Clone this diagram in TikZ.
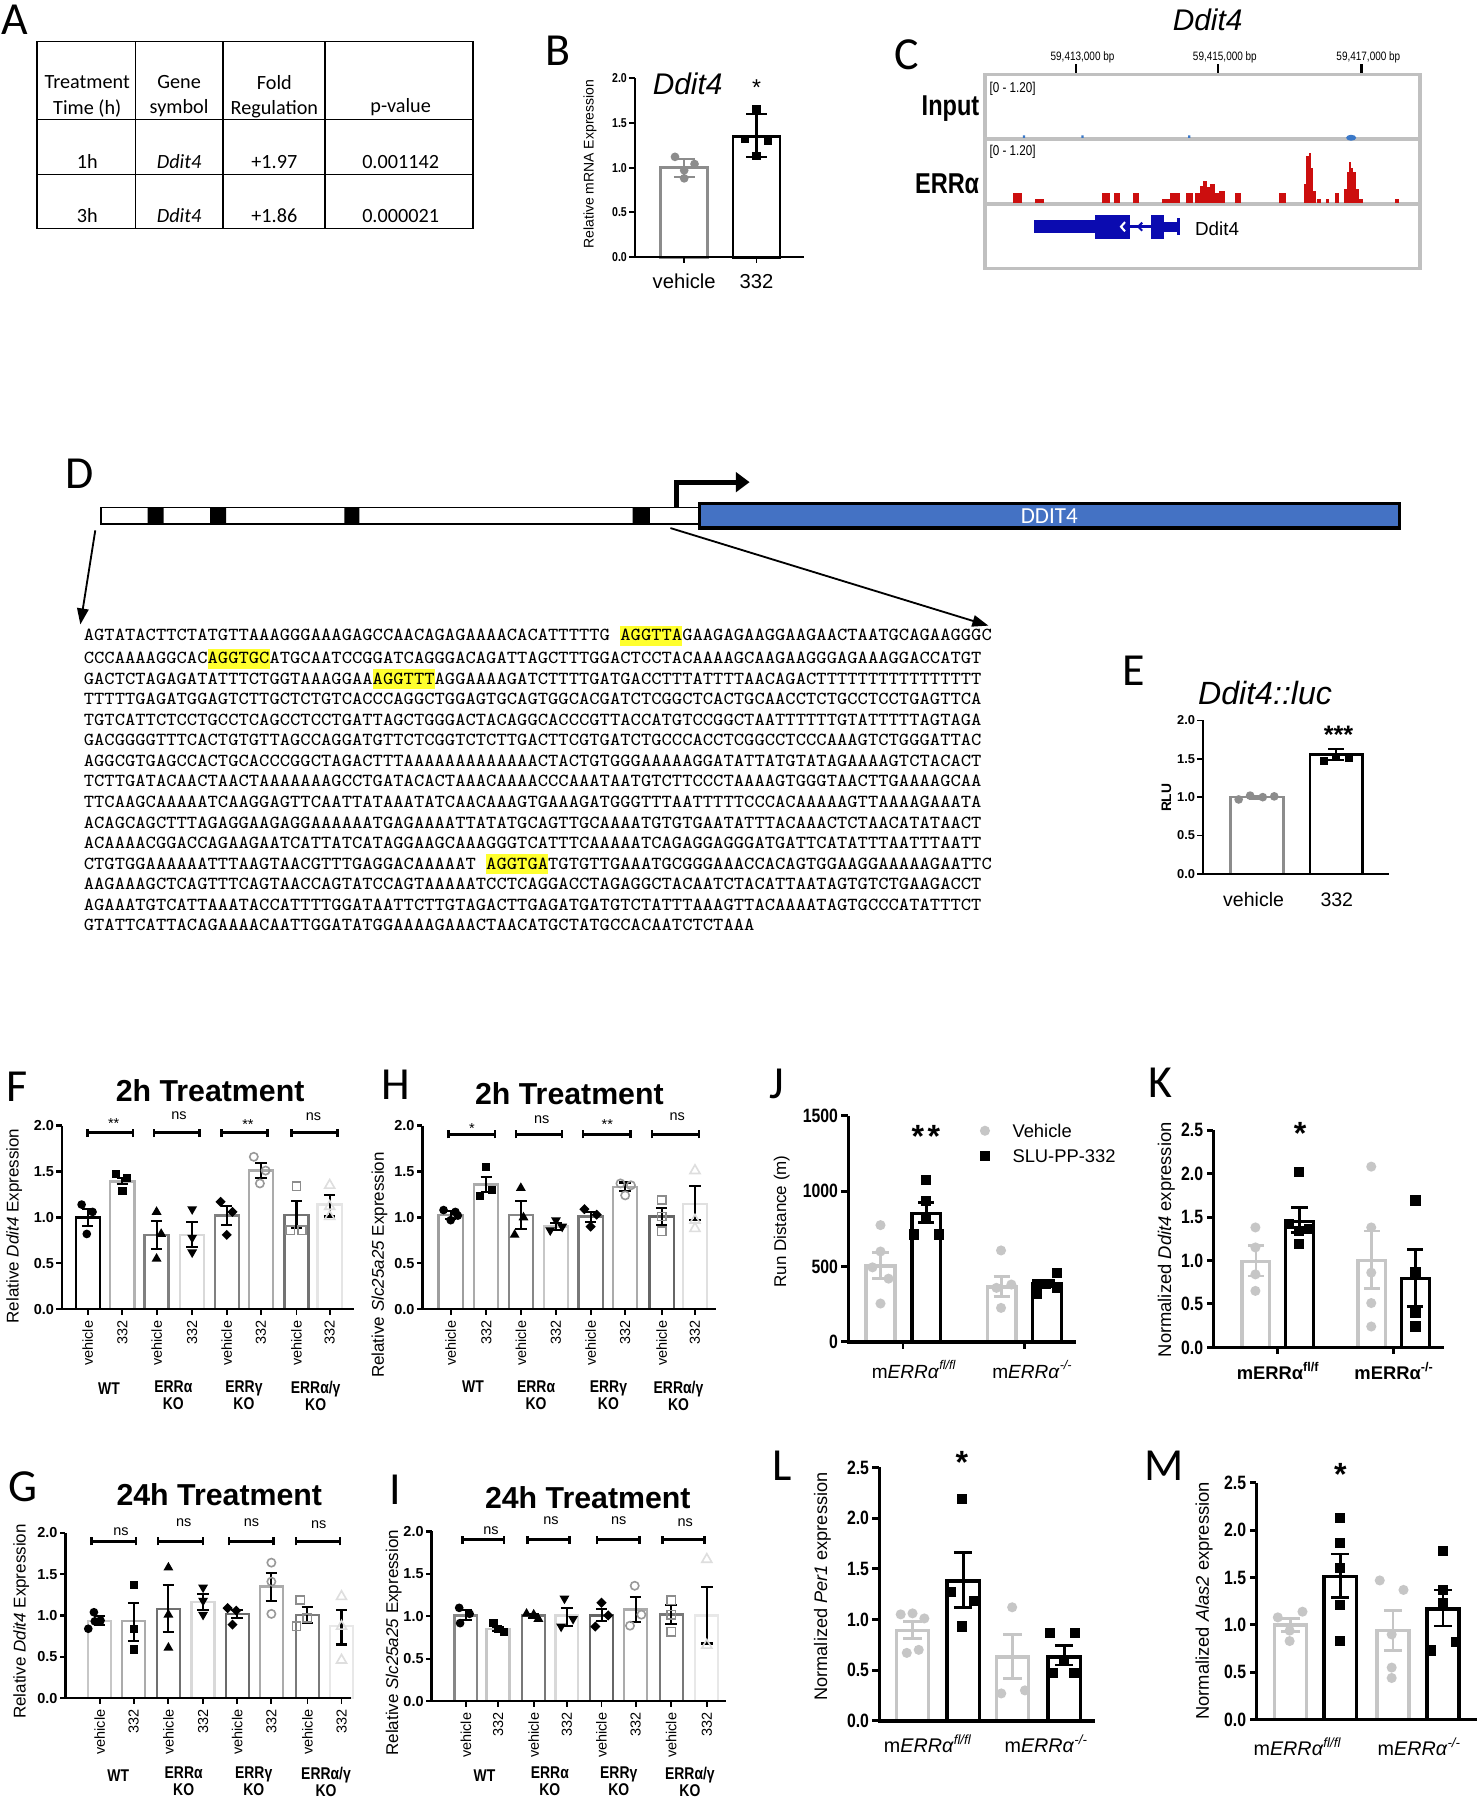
\documentclass[tikz,border=0pt]{standalone}
\usepackage{fontspec}
\setmainfont{Liberation Sans}
\newfontfamily\calib{Carlito}
\newfontfamily\nbf{Liberation Sans}[FakeStretch=0.82]
\usetikzlibrary{arrows.meta,shapes.geometric}
\definecolor{ered}{HTML}{CC0E0E}
\definecolor{gblue}{HTML}{0B0BB0}
\definecolor{iblue}{HTML}{3A78C8}
\definecolor{dblue}{HTML}{4472C4}
\definecolor{lg}{HTML}{C6C6C6}
\definecolor{hly}{HTML}{FFFF2E}
\definecolor{boxg}{HTML}{C0C0C0}
\newcommand{\seqhl}[1]{{\setlength{\fboxsep}{0pt}\colorbox{hly}{\rule[-2.3pt]{0pt}{8.8pt}#1}}}
\newcommand{\pbar}[6]{%
  \filldraw[fill=white, draw=#5, line width=\blw] (#1-\bhw,0) rectangle (#1+\bhw,#2);
  \draw[draw=#6, line width=\elw] (#1,#3) -- (#1,#4) (#1-\ecap,#3) -- (#1+\ecap,#3) (#1-\ecap,#4) -- (#1+\ecap,#4);}
\newcommand{\faxis}[1]{%
  \draw[line width=1pt] (0,2) -- (0,0) -- (#1,0);
  \foreach \myv/\myt in {0/0.0,0.5/0.5,1/1.0,1.5/1.5,2/2.0}{%
    \draw[line width=1pt] (0,\myv) -- ++(-2.5pt,0pt);
    \node[anchor=east, font=\bfseries\fontsize{6.3}{6.3}\selectfont] at ([xshift=-3.5pt]0,\myv) {\myt};}}
\newcommand{\xlabs}[1]{\foreach \xa/\xb in {#1}{%
  \draw[line width=0.8pt] (\xa,0) -- ++(0pt,-2.5pt) (\xb,0) -- ++(0pt,-2.5pt);
  \node[rotate=90, anchor=east, font=\fontsize{6.3}{6.3}\selectfont] at ([yshift=-5pt]\xa,0) {vehicle};
  \node[rotate=90, anchor=east, font=\fontsize{6.3}{6.3}\selectfont] at ([yshift=-5pt]\xb,0) {332};}}
\newcommand{\sbr}[3]{%
  \draw[line width=1.3pt] (#1,#3) -- (#2,#3);
  \draw[line width=1.1pt] (#1,#3) ++(0pt,-1.8pt) -- ++(0pt,3.6pt);
  \draw[line width=1.1pt] (#2,#3) ++(0pt,-1.8pt) -- ++(0pt,3.6pt);}
\newcommand{\kaxis}[3]{% xend, top, list v/t
  \draw[line width=1.5pt] (0,#2) -- (0,0) -- (#1,0);
  \foreach \myv/\myt in {#3}{%
    \draw[line width=1.3pt] (0,\myv) -- ++(-3pt,0pt);
    \node[anchor=east, font=\nbf\bfseries\fontsize{8.4}{8.4}\selectfont] at ([xshift=-4.5pt]0,\myv) {\myt};}}
\tikzset{
  plab/.style={font=\calib\fontsize{20}{20}\selectfont},
  tab/.style={font=\calib\fontsize{8.8}{11}\selectfont, align=center},
  seq/.style={anchor=base west, font=\fontsize{8}{8}\ttfamily},
  grp/.style={font=\nbf\bfseries\fontsize{7.4}{7.4}\selectfont, align=center},
  ttl/.style={font=\bfseries\fontsize{13.2}{13.2}\selectfont},
  ylab/.style={rotate=90, font=\fontsize{7.4}{7.4}\selectfont},
  sig/.style={font=\fontsize{6.3}{6.3}\selectfont},
  mdot/.style={circle, fill=#1, minimum size=3.8pt, inner sep=0pt},
  mdot/.default=black,
  msq/.style={rectangle, fill=#1, minimum size=3.6pt, inner sep=0pt},
  msq/.default=black,
  mtu/.style={regular polygon, regular polygon sides=3, fill=#1, minimum size=5pt, inner sep=0pt},
  mtu/.default=black,
  mtd/.style={regular polygon, regular polygon sides=3, shape border rotate=180, fill=#1, minimum size=5pt, inner sep=0pt},
  mtd/.default=black,
  mdi/.style={diamond, fill=#1, minimum size=4.4pt, inner sep=0pt},
  mdi/.default=black,
  moc/.style={circle, draw=#1, line width=0.7pt, minimum size=3.6pt, inner sep=0pt},
  moc/.default=black!40,
  mos/.style={rectangle, draw=#1, line width=0.7pt, minimum size=3.6pt, inner sep=0pt},
  mos/.default=black!45,
  mot/.style={regular polygon, regular polygon sides=3, draw=#1, line width=0.7pt, minimum size=5pt, inner sep=0pt},
  mot/.default=black!13,
  mks/.style={minimum size=4.4pt},
}
\begin{document}
\begin{tikzpicture}[x=0.5pt, y=-0.5pt, every node/.style={inner sep=0pt, outer sep=0pt}]
\useasboundingbox (0,0) rectangle (1287,1568);
\fill[white] (0,0) rectangle (1287,1568);

% ---------- panel letters
\node[plab] (lA) at (13,17) {A};
\node[plab] (lB) at (486,44) {B};
\node[plab] (lC) at (790,48) {C};
\node[plab] (lD) at (69,413) {D};
\node[plab] (lE) at (988,584) {E};
\node[plab] (lF) at (15,947) {F};
\node[plab] (lH) at (345,945) {H};
\node[plab] (lJ) at (677,944) {J};
\node[plab] (lK) at (1011,943) {K};
\node[plab] (lG) at (20,1295) {G};
\node[plab] (lI) at (344,1298) {I};
\node[plab] (lL) at (681,1277) {L};
\node[plab] (lM) at (1014,1277) {M};

% ---------- A table
\draw[line width=0.7pt] (32,36) rectangle (412,199);
\draw[line width=0.7pt] (118,36) -- (118,199) (194,36) -- (194,199) (283,36) -- (283,199) (32,104) -- (412,104) (32,152) -- (412,152);
\node[tab] (h1) at (76,84) {Treatment\\Time (h)};
\node[tab] (h2) at (156,84) {Gene\\symbol};
\node[tab] (h3) at (239,84) {Fold\\Regulation};
\node[tab] (h4) at (349,93) {p-value};
\node[tab] (r11) at (76,141) {1h};
\node[tab] (r12) at (156,141) {\itshape Ddit4};
\node[tab] (r13) at (239,141) {+1.97};
\node[tab] (r14) at (349,141) {0.001142};
\node[tab] (r21) at (76,188) {3h};
\node[tab] (r22) at (156,188) {\itshape Ddit4};
\node[tab] (r23) at (239,188) {+1.86};
\node[tab] (r24) at (349,188) {0.000021};

% ---------- B
\node[font=\itshape\fontsize{13}{13}\selectfont] (bt) at (599,73) {Ddit4};
\node[font=\fontsize{10}{10}\selectfont] (bs) at (659,76) {*};
\begin{scope}[shift={(553,224)}, y={(0pt,39pt)}]
  \def\bhw{20.5}\def\blw{1.2pt}\def\elw{0.9pt}\def\ecap{9}
  \pbar{43}{1.0}{0.9}{1.1}{black!45}{black!45}
  \pbar{106}{1.35}{1.12}{1.6}{black}{black}
  \foreach \px/\py in {35/1.12,52/1.04,43/0.97,43/0.88} \node[mdot=black!45] at (\px,\py) {};
  \foreach \px/\py in {106/1.65,96/1.32,116/1.30,106/1.13} \node[msq] at (\px,\py) {};
  \draw[line width=0.9pt] (0,2) -- (0,0) -- (147,0);
  \foreach \myv/\myt in {0/0.0,0.5/0.5,1/1.0,1.5/1.5,2/2.0}{%
    \draw[line width=0.8pt] (0,\myv) -- ++(-2.5pt,0pt);
    \node[anchor=east, font=\nbf\bfseries\fontsize{5.6}{5.6}\selectfont] at ([xshift=-3.5pt]0,\myv) {\myt};}
  \draw[line width=0.8pt] (43,0) -- ++(0pt,-2.5pt) (106,0) -- ++(0pt,-2.5pt);
\end{scope}
\node[rotate=90, font=\fontsize{6.1}{6.1}\selectfont] (by) at (514,143) {Relative mRNA Expression};
\node[font=\fontsize{8.8}{8.8}\selectfont] (bx1) at (596,245) {vehicle};
\node[font=\fontsize{8.8}{8.8}\selectfont] (bx2) at (659,245) {332};

% ---------- C
\node[font=\itshape\fontsize{13}{13}\selectfont] (ct) at (1052,17) {Ddit4};
\foreach \tx/\lab in {937/{59,413,000 bp},1061/{59,415,000 bp},1186/{59,417,000 bp}}{%
  \draw[line width=1pt] (\tx,56) -- (\tx,65);
  \node[font=\nbf\fontsize{5.3}{5.3}\selectfont] at (\tx+6,50) {\lab};}
\draw[boxg, line width=1.5pt] (858,65) rectangle (1237,234);
\draw[boxg, line width=1.8pt] (858,121) -- (1237,121) (858,178) -- (1237,178);
\node[anchor=west, font=\nbf\fontsize{6.2}{6.2}\selectfont] (cr1) at (862,77) {[0 - 1.20]};
\node[anchor=west, font=\nbf\fontsize{6.2}{6.2}\selectfont] (cr2) at (862,132) {[0 - 1.20]};
\node[anchor=east, font=\nbf\bfseries\fontsize{12.5}{12.5}\selectfont] (cin) at (853,95) {Input};
\node[anchor=east, font=\nbf\bfseries\fontsize{12.5}{12.5}\selectfont] (cer) at (853,160) {ERRα};
\fill[iblue] (891,118) rectangle (893,120) (942,118) rectangle (944,120) (1035,118) rectangle (1037,120);
\fill[iblue] (1177,120) ellipse (2.2pt and 1.3pt);
\foreach \a/\b/\t in {882/890/168, 902/909/173, 960/967/168, 970/976/168, 987/992/168,
  1012/1019/173, 1019/1028/168, 1033/1039/168, 1041/1045/168, 1045/1048/162, 1048/1051/158,
  1051/1054/163, 1054/1058/160, 1058/1062/168, 1062/1067/166, 1076/1081/168, 1114/1120/168,
  1136/1138/160, 1138/1140/136, 1140/1142/133, 1142/1144/146, 1144/1146/166, 1147/1151/173,
  1155/1158/173, 1163/1166/168, 1171/1173/165, 1173/1175/150, 1175/1177/141, 1177/1179/146,
  1179/1181/150, 1181/1184/165, 1184/1187/173, 1215/1219/173}
  \fill[ered] (\a,177) rectangle (\b,\t);
\fill[gblue] (901,192) rectangle (954,203);
\fill[gblue] (954,187) rectangle (984,208);
\draw[gblue, line width=1.2pt] (984,197.5) -- (1003,197.5);
\fill[gblue] (1003,187) rectangle (1014,208);
\fill[gblue] (1014,193) rectangle (1026,202);
\draw[gblue, line width=1.3pt] (1027,190) -- (1027,205);
\draw[white, line width=0.9pt] (980,193.5) -- (976.5,197.5) -- (980,201.5);
\draw[gblue, line width=0.9pt] (995,194) -- (991.5,197.5) -- (995,201);
\node[anchor=west, font=\fontsize{8.2}{8.2}\selectfont] (cg) at (1041,199) {Ddit4};

% ---------- D
\draw[line width=0.6pt, fill=white] (88,442) rectangle (611,456.5);
\fill (128.5,442) rectangle (142.5,456.5) (183,442) rectangle (197,456.5) (300,442) rectangle (313,456.5) (551,442) rectangle (566,456.5);
\draw[line width=1.4pt, fill=dblue] (609,438.5) rectangle (1219,460);
\node[font=\calib\fontsize{10}{10}\selectfont, text=white] (ddit) at (914,449.5) {DDIT4};
\coordinate (tss0) at (589.5,442);
\coordinate (tss1) at (589.5,420);
\coordinate (tss2) at (653,420);
\draw[line width=2.2pt, -{Triangle[length=6pt,width=8.5pt]}] (tss0) -- (tss1) -- (tss2);
\coordinate (la0) at (83,462);
\coordinate (la1) at (70,544);
\coordinate (ra0) at (584,460);
\coordinate (ra1) at (861,545);
\draw[line width=0.8pt, -{Triangle[length=7pt,width=5pt]}] (la0) -- (la1);
\draw[line width=0.8pt, -{Triangle[length=7pt,width=5pt]}] (ra0) -- (ra1);

\node[seq] (s1) at (73,558) {\scalebox{1.058}[1]{AGTATACTTCTATGTTAAAGGGAAAGAGCCAACAGAGAAAACACATTTTTG \seqhl{AGGTTA}GAAGAGAAGGAAGAACTAATGCAGAAGGGC}};
\node[seq] (s2) at (73,578) {\scalebox{1.058}[1]{CCCAAAAGGCAC\seqhl{AGGTGC}ATGCAATCCGGATCAGGGACAGATTAGCTTTGGACTCCTACAAAAGCAAGAAGGGAGAAAGGACCATGT}};
\node[seq] (s3) at (73,595.9) {\scalebox{1.058}[1]{GACTCTAGAGATATTTCTGGTAAAGGAA\seqhl{AGGTTT}AGGAAAAGATCTTTTGATGACCTTTATTTTAACAGACTTTTTTTTTTTTTTTT}};
\node[seq] (s4) at (73,613.8) {\scalebox{1.058}[1]{TTTTTGAGATGGAGTCTTGCTCTGTCACCCAGGCTGGAGTGCAGTGGCACGATCTCGGCTCACTGCAACCTCTGCCTCCTGAGTTCA}};
\node[seq] (s5) at (73,631.8) {\scalebox{1.058}[1]{TGTCATTCTCCTGCCTCAGCCTCCTGATTAGCTGGGACTACAGGCACCCGTTACCATGTCCGGCTAATTTTTTGTATTTTTAGTAGA}};
\node[seq] (s6) at (73,649.7) {\scalebox{1.058}[1]{GACGGGGTTTCACTGTGTTAGCCAGGATGTTCTCGGTCTCTTGACTTCGTGATCTGCCCACCTCGGCCTCCCAAAGTCTGGGATTAC}};
\node[seq] (s7) at (73,667.6) {\scalebox{1.058}[1]{AGGCGTGAGCCACTGCACCCGGCTAGACTTTAAAAAAAAAAAAACTACTGTGGGAAAAAGGATATTATGTATAGAAAAGTCTACACT}};
\node[seq] (s8) at (73,685.5) {\scalebox{1.058}[1]{TCTTGATACAACTAACTAAAAAAAGCCTGATACACTAAACAAAACCCAAATAATGTCTTCCCTAAAAGTGGGTAACTTGAAAAGCAA}};
\node[seq] (s9) at (73,703.4) {\scalebox{1.058}[1]{TTCAAGCAAAAATCAAGGAGTTCAATTATAAATATCAACAAAGTGAAAGATGGGTTTAATTTTTCCCACAAAAAGTTAAAAGAAATA}};
\node[seq] (s10) at (73,721.3) {\scalebox{1.058}[1]{ACAGCAGCTTTAGAGGAAGAGGAAAAAATGAGAAAATTATATGCAGTTGCAAAATGTGTGAATATTTACAAACTCTAACATATAACT}};
\node[seq] (s11) at (73,739.2) {\scalebox{1.058}[1]{ACAAAACGGACCAGAAGAATCATTATCATAGGAAGCAAAGGGTCATTTCAAAAATCAGAGGAGGGATGATTCATATTTAATTTAATT}};
\node[seq] (s12) at (73,757.1) {\scalebox{1.058}[1]{CTGTGGAAAAAATTTAAGTAACGTTTGAGGACAAAAAT \seqhl{AGGTGA}TGTGTTGAAATGCGGGAAACCACAGTGGAAGGAAAAAGAATTC}};
\node[seq] (s13) at (73,775.0) {\scalebox{1.058}[1]{AAGAAAGCTCAGTTTCAGTAACCAGTATCCAGTAAAAATCCTCAGGACCTAGAGGCTACAATCTACATTAATAGTGTCTGAAGACCT}};
\node[seq] (s14) at (73,793.0) {\scalebox{1.058}[1]{AGAAATGTCATTAAATACCATTTTGGATAATTCTTGTAGACTTGAGATGATGTCTATTTAAAGTTACAAAATAGTGCCCATATTTCT}};
\node[seq] (s15) at (73,810.9) {\scalebox{1.058}[1]{GTATTCATTACAGAAAACAATTGGATATGGAAAAGAAACTAACATGCTATGCCACAATCTCTAAA}};

% ---------- E
\node[font=\itshape\fontsize{14}{14}\selectfont] (et) at (1102,604) {Ddit4::luc};
\node[font=\bfseries\fontsize{11}{11}\selectfont] (es) at (1166,640) {***};
\begin{scope}[shift={(1048,761.2)}, y={(0pt,33.4pt)}]
  \def\bhw{23}\def\blw{1.1pt}\def\elw{0.9pt}\def\ecap{7}
  \pbar{47}{1.0}{0.98}{1.02}{black!45}{black!45}
  \pbar{116}{1.553}{1.49}{1.625}{black}{black}
  \foreach \px/\py in {31/0.97,41/1.02,52/1.0,62/1.01} \node[mdot=black!45] at (\px,\py) {};
  \foreach \px/\py in {105.5/1.467,116/1.52,127/1.51} \node[msq] at (\px,\py) {};
  \draw[line width=0.9pt] (0,2) -- (0,0) -- (162,0);
  \foreach \myv/\myt in {0/0.0,0.5/0.5,1/1.0,1.5/1.5,2/2.0}{%
    \draw[line width=0.8pt] (0,\myv) -- ++(-2.5pt,0pt);
    \node[anchor=east, font=\bfseries\fontsize{5.6}{5.6}\selectfont] at ([xshift=-3.5pt]0,\myv) {\myt};}
\end{scope}
\node[rotate=90, font=\bfseries\fontsize{6}{6}\selectfont] (ey) at (1016,695) {RLU};
\node[font=\fontsize{8.5}{8.5}\selectfont] (ex1) at (1092,784) {vehicle};
\node[font=\fontsize{8.5}{8.5}\selectfont] (ex2) at (1164.5,784) {332};

% ---------- F
\node[ttl] (ft) at (183,950) {2h Treatment};
\begin{scope}[shift={(54,1140.5)}, y={(0pt,40pt)}]
  \def\bhw{10.5}\def\blw{1pt}\def\elw{0.9pt}\def\ecap{5}
  \pbar{22.4}{1.00}{0.91}{1.09}{black}{black}
  \pbar{52.6}{1.39}{1.36}{1.43}{black!30}{black}
  \pbar{82.4}{0.81}{0.66}{0.96}{black!50}{black}
  \pbar{113.4}{0.81}{0.68}{0.95}{black!15}{black}
  \pbar{143.5}{1.02}{0.92}{1.12}{black!50}{black}
  \pbar{173.3}{1.51}{1.43}{1.59}{black!33}{black}
  \pbar{204.3}{1.03}{0.88}{1.18}{black!55}{black}
  \pbar{233.2}{1.14}{1.01}{1.24}{black!10}{black}
  \foreach \px/\py in {17.1/1.14,26.6/1.06,21.6/0.82} \node[mdot] at (\px,\py) {};
  \foreach \px/\py in {47.2/1.47,56.7/1.43,52.6/1.29} \node[msq] at (\px,\py) {};
  \foreach \px/\py in {82.4/1.06,86.4/0.82,82.4/0.55} \node[mtu] at (\px,\py) {};
  \foreach \px/\py in {113.4/1.09,113.4/0.78,113.4/0.62} \node[mtd] at (\px,\py) {};
  \foreach \px/\py in {138.1/1.17,148.5/1.06,143.5/0.81} \node[mdi] at (\px,\py) {};
  \foreach \px/\py in {167.1/1.66,177.4/1.51,172.4/1.37} \node[moc] at (\px,\py) {};
  \foreach \px/\py in {204.3/1.34,198.9/0.86,209.2/0.86} \node[mos] at (\px,\py) {};
  \foreach \px/\py in {233.2/1.35,233.2/1.12,233.2/1.01} \node[mot] at (\px,\py) {};
  \faxis{254}
  \xlabs{22.4/52.6,82.4/113.4,143.5/173.3,204.3/233.2}
  \sbr{22}{62}{1.92}\sbr{80}{120}{1.92}\sbr{139}{179}{1.92}\sbr{200}{240}{1.92}
\end{scope}
\node[sig] at (99,979) {**};
\node[sig] at (156,972) {ns};
\node[sig] at (216,980) {**};
\node[sig] at (273,973) {ns};
\node[ylab] (fy) at (12.5,1068) {Relative \textit{Ddit4} Expression};
\node[grp] at (95,1210) {WT};
\node[grp] at (151,1215) {ERRα\\KO};
\node[grp] at (212.5,1215) {ERRγ\\KO};
\node[grp] at (275,1216) {ERRα/γ\\KO};

% ---------- H
\node[ttl] (ht) at (496,953) {2h Treatment};
\begin{scope}[shift={(368,1140.5)}, y={(0pt,40pt)}]
  \def\bhw{10.5}\def\blw{1pt}\def\elw{0.9pt}\def\ecap{5}
  \pbar{24.6}{1.03}{0.98}{1.07}{black!38}{black}
  \pbar{55.6}{1.36}{1.28}{1.44}{black!33}{black}
  \pbar{85.7}{1.03}{0.87}{1.18}{black!47}{black}
  \pbar{116.3}{0.90}{0.86}{0.94}{black!22}{black}
  \pbar{146.5}{1.01}{0.95}{1.06}{black!53}{black}
  \pbar{176.6}{1.33}{1.29}{1.38}{black!33}{black}
  \pbar{208.4}{1.01}{0.92}{1.10}{black!60}{black}
  \pbar{237.4}{1.15}{0.97}{1.34}{black!12}{black}
  \foreach \px/\py in {18.4/1.08,28.7/1.06,24.6/0.97,30.8/1.02} \node[mdot] at (\px,\py) {};
  \foreach \px/\py in {55.6/1.55,60.5/1.30,50.2/1.23} \node[msq] at (\px,\py) {};
  \foreach \px/\py in {85.7/1.32,80.3/0.81,88/1.0} \node[mtu] at (\px,\py) {};
  \foreach \px/\py in {116.3/0.97,111.3/0.86,121.7/0.90} \node[mtd] at (\px,\py) {};
  \foreach \px/\py in {141.1/1.09,151.8/1.03,146.5/0.90} \node[mdi] at (\px,\py) {};
  \foreach \px/\py in {172.5/1.37,181.6/1.35,176.6/1.24} \node[moc] at (\px,\py) {};
  \foreach \px/\py in {208.4/1.19,208.4/1.01,208.4/0.85} \node[mos] at (\px,\py) {};
  \foreach \px/\py in {237.4/1.51,237.4/0.97,237.4/0.88} \node[mot] at (\px,\py) {};
  \faxis{256}
  \xlabs{24.6/55.6,85.7/116.3,146.5/176.6,208.4/237.4}
  \sbr{22.5}{63}{1.906}\sbr{81.6}{121.7}{1.906}\sbr{140}{181}{1.906}\sbr{200}{240.7}{1.906}
\end{scope}
\node[sig] at (411,983) {*};
\node[sig] at (472,975) {ns};
\node[sig] at (529,980) {**};
\node[sig] at (590,973) {ns};
\node[ylab] (hy) at (330.6,1102) {Relative \textit{Slc25a25} Expression};
\node[grp] at (412,1208) {WT};
\node[grp] at (467,1215) {ERRα\\KO};
\node[grp] at (530,1215) {ERRγ\\KO};
\node[grp] at (591,1216) {ERRα/γ\\KO};

% ---------- G
\node[ttl] (gt) at (191,1302) {24h Treatment};
\begin{scope}[shift={(57,1479.3)}, y={(0pt,36pt)}]
  \def\bhw{10}\def\blw{1pt}\def\elw{0.9pt}\def\ecap{5}
  \pbar{29.8}{0.93}{0.88}{0.99}{black!22}{black}
  \pbar{59.5}{0.93}{0.69}{1.15}{black!33}{black}
  \pbar{89.7}{1.08}{0.80}{1.37}{black!56}{black}
  \pbar{119.9}{1.16}{1.07}{1.26}{black!15}{black}
  \pbar{149.6}{1.02}{0.97}{1.07}{black!58}{black}
  \pbar{179.4}{1.35}{1.18}{1.52}{black!33}{black}
  \pbar{210.8}{1.01}{0.91}{1.10}{black!52}{black}
  \pbar{240.5}{0.87}{0.65}{1.07}{black!9}{black}
  \foreach \px/\py in {24.8/1.04,30.6/0.94,19.9/0.84,25.6/0.93} \node[mdot] at (\px,\py) {};
  \foreach \px/\py in {59.5/1.37,59.5/0.84,59.5/0.59} \node[msq] at (\px,\py) {};
  \foreach \px/\py in {89.7/1.58,89.7/1.01,89.7/0.61} \node[mtu] at (\px,\py) {};
  \foreach \px/\py in {119.9/1.34,119.9/1.18,119.9/1.01} \node[mtd] at (\px,\py) {};
  \foreach \px/\py in {141.3/1.09,148.8/1.06,145.5/0.89} \node[mdi] at (\px,\py) {};
  \foreach \px/\py in {179.4/1.64,179.4/1.41,179.4/1.02} \node[moc] at (\px,\py) {};
  \foreach \px/\py in {204.6/1.19,201.3/0.87,210.8/0.97} \node[mos] at (\px,\py) {};
  \foreach \px/\py in {240.5/1.23,240.5/0.87,240.5/0.46} \node[mot] at (\px,\py) {};
  \faxis{249}
  \xlabs{29.8/59.5,89.7/119.9,149.6/179.4,210.8/240.5}
  \sbr{22.8}{61.6}{1.9}\sbr{80.6}{119.9}{1.9}\sbr{142.6}{181.4}{1.9}\sbr{201}{239}{1.9}
\end{scope}
\node[sig] at (105.4,1334) {ns};
\node[sig] at (160,1326.7) {ns};
\node[sig] at (219,1326) {ns};
\node[sig] at (277.7,1328) {ns};
\node[ylab] (gy) at (18.6,1412.5) {Relative \textit{Ddit4} Expression};
\node[grp] at (103,1547) {WT};
\node[grp] at (160,1552) {ERRα\\KO};
\node[grp] at (221,1552) {ERRγ\\KO};
\node[grp] at (284,1552) {ERRα/γ\\KO};

% ---------- I
\node[ttl] (it) at (512,1305) {24h Treatment};
\begin{scope}[shift={(376,1482)}, y={(0pt,37pt)}]
  \def\bhw{10}\def\blw{1pt}\def\elw{0.9pt}\def\ecap{5}
  \pbar{29.8}{1.01}{0.96}{1.07}{black!47}{black}
  \pbar{57.9}{0.85}{0.83}{0.88}{black!22}{black}
  \pbar{88.9}{1.01}{0.98}{1.03}{black!53}{black}
  \pbar{117.8}{1.01}{0.89}{1.10}{black!15}{black}
  \pbar{148}{1.01}{0.94}{1.09}{black!60}{black}
  \pbar{177.7}{1.08}{0.93}{1.23}{black!33}{black}
  \pbar{208.7}{1.02}{0.91}{1.13}{black!53}{black}
  \pbar{239.7}{1.01}{0.68}{1.35}{black!9}{black}
  \foreach \px/\py in {24/1.10,33.1/1.03,24.8/0.92} \node[mdot] at (\px,\py) {};
  \foreach \px/\py in {53.8/0.92,57.9/0.85,62.8/0.82} \node[msq] at (\px,\py) {};
  \foreach \px/\py in {82.7/1.03,88.9/1.02,93/0.97} \node[mtu] at (\px,\py) {};
  \foreach \px/\py in {115.7/1.21,123.2/0.97,112.8/0.88} \node[mtd] at (\px,\py) {};
  \foreach \px/\py in {148/1.16,153.8/1.01,142.6/0.88} \node[mdi] at (\px,\py) {};
  \foreach \px/\py in {176.9/1.36,182.7/1.02,172.8/0.89} \node[moc] at (\px,\py) {};
  \foreach \px/\py in {208.7/1.19,208.7/1.02,208.7/0.82} \node[mos] at (\px,\py) {};
  \foreach \px/\py in {239.7/1.67,239.7/0.66} \node[mot] at (\px,\py) {};
  \faxis{256}
  \xlabs{29.8/57.9,88.9/117.8,148/177.7,208.7/239.7}
  \sbr{27}{63}{1.9}\sbr{83.5}{120}{1.9}\sbr{144}{181}{1.9}\sbr{201}{237.6}{1.9}
\end{scope}
\node[sig] at (427.7,1333.4) {ns};
\node[sig] at (480,1325) {ns};
\node[sig] at (539,1324.7) {ns};
\node[sig] at (597,1326) {ns};
\node[ylab] (iy) at (343,1431) {Relative \textit{Slc25a25} Expression};
\node[grp] at (422,1547) {WT};
\node[grp] at (479,1552) {ERRα\\KO};
\node[grp] at (539,1552) {ERRγ\\KO};
\node[grp] at (601,1552) {ERRα/γ\\KO};

% ---------- J
\begin{scope}[shift={(739,1169)}, y={(0pt,0.065667pt)}]
  \def\bhw{12.5}\def\blw{1.5pt}\def\elw{1.2pt}\def\ecap{7}
  \pbar{28}{503}{420}{592}{lg}{lg}
  \pbar{68}{851}{790}{924}{black}{black}
  \pbar{133.5}{366}{304}{436}{lg}{lg}
  \pbar{173}{386}{365}{410}{black}{black}
  \foreach \px/\py in {28/775,28/600,21/495,35/420,28/255} \node[mdot=lg, mks] at (\px,\py) {};
  \foreach \px/\py in {68/1075,68/935,68/830,57/713,79/713} \node[msq, mks] at (\px,\py) {};
  \foreach \px/\py in {133/607,142/381,129/359,133/226} \node[mdot=lg, mks] at (\px,\py) {};
  \foreach \px/\py in {182/459,172/386,164/381,164/319,182/359} \node[msq, mks] at (\px,\py) {};
  \kaxis{198.5}{1500}{0/0,500/500,1000/1000,1500/1500}
  \draw[line width=1.3pt] (47.6,0) -- ++(0pt,-3pt) (153.8,0) -- ++(0pt,-3pt);
\end{scope}
\node[font=\bfseries\fontsize{14}{14}\selectfont] (js) at (806.5,990) {*\hspace{1.5pt}*};
\node[mdot=lg, mks] (jl1) at (858,985) {};
\node[msq, mks] (jl2) at (858,1007) {};
\node[anchor=west, font=\fontsize{8}{8}\selectfont] (jt1) at (882,985) {Vehicle};
\node[anchor=west, font=\fontsize{8}{8}\selectfont] (jt2) at (882,1007) {SLU-PP-332};
\node[rotate=90, font=\fontsize{7.4}{7.4}\selectfont] (jy) at (681,1064) {Run Distance (m)};
\node[font=\fontsize{8.3}{8.3}\selectfont] (jx1) at (796,1193) {m\textit{ERRα}\raisebox{3.5pt}{\fontsize{5.5}{5.5}\selectfont\textit{fl/fl}}};
\node[font=\fontsize{8.3}{8.3}\selectfont] (jx2) at (899,1193) {m\textit{ERRα}\raisebox{3.5pt}{\fontsize{5.5}{5.5}\selectfont\textit{-/-}}};

% ---------- K
\begin{scope}[shift={(1057,1173.7)}, y={(0pt,37.85pt)}]
  \def\bhw{12}\def\blw{1.5pt}\def\elw{1.2pt}\def\ecap{7}
  \pbar{37}{0.99}{0.82}{1.17}{lg}{lg}
  \pbar{75}{1.45}{1.32}{1.61}{black}{black}
  \pbar{138}{1.00}{0.68}{1.34}{lg}{lg}
  \pbar{176}{0.79}{0.47}{1.13}{black}{black}
  \foreach \px/\py in {36.6/1.38,36.6/1.15,36.6/0.84,36.6/0.65} \node[mdot=lg, mks] at (\px,\py) {};
  \foreach \px/\py in {74.7/2.02,65.6/1.42,83/1.36,74.7/1.34,74.7/1.19} \node[msq, mks] at (\px,\py) {};
  \foreach \px/\py in {137.5/2.08,137.5/1.38,137.5/0.86,137.5/0.51,137.5/0.24} \node[mdot=lg, mks] at (\px,\py) {};
  \foreach \px/\py in {176/1.69,176/0.87,176/0.40,176/0.24} \node[msq, mks] at (\px,\py) {};
  \kaxis{200.7}{2.5}{0/0.0,0.5/0.5,1/1.0,1.5/1.5,2/2.0,2.5/2.5}
  \draw[line width=1.3pt] (56,0) -- ++(0pt,-3pt) (157,0) -- ++(0pt,-3pt);
\end{scope}
\node[font=\bfseries\fontsize{14}{14}\selectfont] (ks) at (1132.5,987) {*};
\node[rotate=90, font=\fontsize{8}{8}\selectfont] (ky) at (1016,1080) {Normalized \textit{Ddit4} expression};
\node[font=\bfseries\fontsize{8}{8}\selectfont] (kx1) at (1113,1194.5) {mERRα\raisebox{3.5pt}{\fontsize{5.5}{5.5}\selectfont fl/f}};
\node[font=\bfseries\fontsize{8}{8}\selectfont] (kx2) at (1214,1194.5) {mERRα\raisebox{3.5pt}{\fontsize{5.5}{5.5}\selectfont -/-}};

% ---------- L
\begin{scope}[shift={(766,1499)}, y={(0pt,44.15pt)}]
  \def\bhw{14}\def\blw{1.5pt}\def\elw{1.2pt}\def\ecap{8}
  \pbar{29}{0.89}{0.81}{0.98}{lg}{lg}
  \pbar{73}{1.38}{1.12}{1.66}{black}{black}
  \pbar{116}{0.63}{0.42}{0.85}{lg}{lg}
  \pbar{161}{0.63}{0.55}{0.74}{black}{black}
  \foreach \px/\py in {18.6/1.05,28.9/1.06,39.2/1.01,23.9/0.67,34.3/0.70} \node[mdot=lg, mks] at (\px,\py) {};
  \foreach \px/\py in {72.3/2.19,62/1.27,82.6/1.18,72.3/0.93} \node[msq, mks] at (\px,\py) {};
  \foreach \px/\py in {115.7/1.12,106.2/0.27,126.8/0.30} \node[mdot=lg, mks] at (\px,\py) {};
  \foreach \px/\py in {148.7/0.87,170.2/0.87,150.8/0.47,169.4/0.47,161/0.6} \node[msq, mks] at (\px,\py) {};
  \kaxis{188}{2.5}{0/0.0,0.5/0.5,1/1.0,1.5/1.5,2/2.0,2.5/2.5}
\end{scope}
\node[font=\bfseries\fontsize{14}{14}\selectfont] (ls) at (838,1274) {*};
\node[rotate=90, font=\fontsize{7.9}{7.9}\selectfont] (ly) at (716.4,1382) {Normalized \textit{Per1} expression};
\node[font=\fontsize{8.6}{8.6}\selectfont] (lx1) at (808,1519) {m\textit{ERRα}\raisebox{3.5pt}{\fontsize{5.8}{5.8}\selectfont\textit{fl/fl}}};
\node[font=\fontsize{8.6}{8.6}\selectfont] (lx2) at (911,1519) {m\textit{ERRα}\raisebox{3.5pt}{\fontsize{5.8}{5.8}\selectfont\textit{-/-}}};

% ---------- M
\begin{scope}[shift={(1094.5,1498)}, y={(0pt,41.25pt)}]
  \def\bhw{14}\def\blw{1.5pt}\def\elw{1.2pt}\def\ecap{8}
  \pbar{29.5}{1.00}{0.93}{1.07}{lg}{lg}
  \pbar{73}{1.51}{1.29}{1.75}{black}{black}
  \pbar{119}{0.94}{0.73}{1.15}{lg}{lg}
  \pbar{162.5}{1.17}{0.99}{1.37}{black}{black}
  \foreach \px/\py in {18.6/1.08,40.1/1.14,28.9/0.94,28.9/0.83} \node[mdot=lg, mks] at (\px,\py) {};
  \foreach \px/\py in {73.1/2.13,73.1/1.87,73.1/1.60,73.1/1.21,73.1/0.83} \node[msq, mks] at (\px,\py) {};
  \foreach \px/\py in {107.4/1.47,128.1/1.37,117.8/0.90,117.8/0.55,117.8/0.44} \node[mdot=lg, mks] at (\px,\py) {};
  \foreach \px/\py in {162.4/1.78,162.4/1.37,162.4/1.23,173.5/0.82,151.6/0.73} \node[msq, mks] at (\px,\py) {};
  \kaxis{192}{2.5}{0/0.0,0.5/0.5,1/1.0,1.5/1.5,2/2.0,2.5/2.5}
\end{scope}
\node[font=\bfseries\fontsize{14}{14}\selectfont] (ms) at (1167.6,1284) {*};
\node[rotate=90, font=\fontsize{8}{8}\selectfont] (my) at (1049,1394.5) {Normalized \textit{Alas2} expression};
\node[font=\fontsize{8.6}{8.6}\selectfont] (mx1) at (1130,1521.5) {m\textit{ERRα}\raisebox{3.5pt}{\fontsize{5.8}{5.8}\selectfont\textit{fl/fl}}};
\node[font=\fontsize{8.6}{8.6}\selectfont] (mx2) at (1236,1521.5) {m\textit{ERRα}\raisebox{3.5pt}{\fontsize{5.8}{5.8}\selectfont\textit{-/-}}};
\end{tikzpicture}
\end{document}
